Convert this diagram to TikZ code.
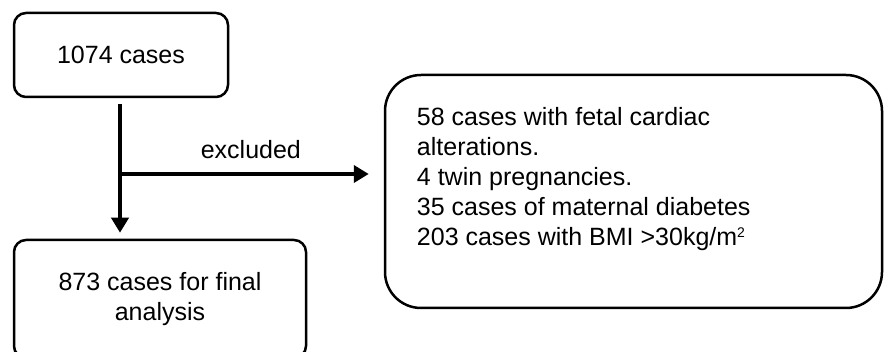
\documentclass[tikz,border=0pt]{standalone}
\usepackage{fontspec}
\setmainfont{Liberation Sans}
\usetikzlibrary{arrows.meta,calc}
\tikzstyle{every node}=[font=\fontsize{25}{30}\selectfont]
\tikzstyle{casebox}=[draw=black,line width=2.5pt,rounded corners=12pt,align=center]
\tikzstyle{listbox}=[draw=black,line width=2.5pt,rounded corners=36pt]
\tikzstyle{flow}=[line width=4pt,-{Triangle[length=15pt,width=17pt]}]

\begin{document}
\begin{tikzpicture}[x=1pt,y=1pt]
  \clip (0,0) rectangle (893,352);
  \useasboundingbox (0,0) rectangle (893,352);
  \node [casebox,minimum width=214pt,minimum height=84pt] (total) at (121,297) {1074 cases};
  \node [casebox,minimum width=292pt,minimum height=118pt] (final) at (160,53)
    {873 cases for final\\analysis};
  \node [listbox,minimum width=497pt,minimum height=233pt] (excl) at (633.5,160.5) {};
  \node [anchor=north west,inner sep=0pt,align=left] (excltext)
    at ([xshift=33pt,yshift=-33pt]excl.north west)
    {58 cases with fetal cardiac\\alterations.\\4 twin pregnancies.\\35 cases of maternal diabetes\\203 cases with BMI >30kg/m\raisebox{8pt}{\fontsize{14}{14}\selectfont 2}};
  \coordinate (split) at (120,178);
  \draw [flow,shorten <=6pt,shorten >=6pt] ([xshift=-1pt]total.south) -- ([xshift=-1pt]total.south |- final.north);
  \draw [flow,shorten >=15pt] ([xshift=-2pt]split) -- (split -| excl.west)
    node [midway,above=10pt,draw=none] (exlabel) {excluded};
\end{tikzpicture}
\end{document}
